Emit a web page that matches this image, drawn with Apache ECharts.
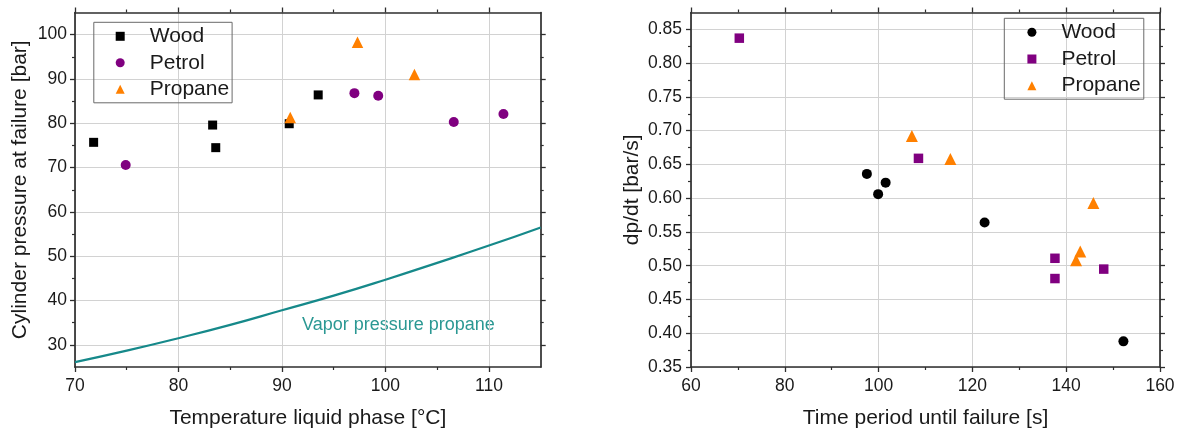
<!DOCTYPE html>
<html>
<head>
<meta charset="utf-8">
<script src="https://cdn.jsdelivr.net/npm/echarts@6/dist/echarts.min.js"></script>
<style>
html,body{margin:0;padding:0;background:#fff;}
#c{width:1180px;height:434px;}
</style>
</head>
<body>
<div id="c"></div>
<script>
// ---- Left chart data: temperature [°C] vs cylinder pressure [bar]
const leftWoodT    = [71.8, 83.3, 83.6, 90.7, 93.5];
const leftWoodP    = [75.7, 79.6, 74.5, 79.9, 86.4];
const leftPetrolT  = [74.9, 97.0, 99.3, 106.6, 111.4];
const leftPetrolP  = [70.6, 86.8, 86.2, 80.3, 82.1];
const leftPropaneT = [90.8, 97.3, 102.8];
const leftPropaneP = [81.3, 98.3, 91.0];
const vaporT = [70, 75, 80, 85, 90, 95, 100, 105, 110, 115];
const vaporP = [26.1, 28.7, 31.5, 34.5, 37.8, 41.1, 44.7, 48.5, 52.4, 56.5];

// ---- Right chart data: time until failure [s] vs dp/dt [bar/s]
const rightWoodT    = [97.5, 99.9, 101.5, 122.6, 152.2];
const rightWoodR    = [0.636, 0.606, 0.623, 0.564, 0.388];
const rightPetrolT  = [70.3, 108.5, 137.6, 137.6, 148.0];
const rightPetrolR  = [0.837, 0.659, 0.511, 0.481, 0.495];
const rightPropaneT = [107.1, 115.3, 145.8, 143.0, 142.1];
const rightPropaneR = [0.692, 0.658, 0.593, 0.521, 0.508];

// ---- Tick values
const leftXMajor  = [70, 80, 90, 100, 110];
const leftXMinor  = [75, 85, 95, 105];
const leftYMajor  = [30, 40, 50, 60, 70, 80, 90, 100];
const leftYMinor  = [35, 45, 55, 65, 75, 85, 95];
const rightXMajor = [60, 80, 100, 120, 140, 160];
const rightXMinor = [70, 90, 110, 130, 150];
const rightYMajor = [0.35, 0.40, 0.45, 0.50, 0.55, 0.60, 0.65, 0.70, 0.75, 0.80, 0.85];
const rightYMinor = [0.375, 0.425, 0.475, 0.525, 0.575, 0.625, 0.675, 0.725, 0.775, 0.825];

const seriesNames = ['Wood', 'Petrol', 'Propane'];
const vaporLabel = 'Vapor pressure propane';

const FONT = 'Liberation Sans, Arial, sans-serif';
const AX = '#2e2e2e';
const GRID = '#d2d2d2';
const BLACK = '#000000';
const PURPLE = '#800080';
const ORANGE = '#ff8000';
const TEAL = '#16898a';

function zip(a, b) { return a.map((v, i) => [v, b[i]]); }

function axisSet(dim, gridIndex, min, max, majors, minors, name, nameGap, nameSize, margin, fmt) {
  const pos = dim === 'x' ? ['bottom', 'top'] : ['left', 'right'];
  const out = [];
  pos.forEach((p, k) => {
    out.push({
      type: 'value', gridIndex: gridIndex, position: p, min: min, max: max,
      name: k === 0 ? name : '',
      nameLocation: 'middle', nameGap: nameGap,
      nameTextStyle: {fontFamily: FONT, fontSize: nameSize, color: '#1a1a1a'},
      axisLine: {show: true, onZero: false, lineStyle: {color: AX, width: 1.7}},
      axisTick: {show: true, inside: false, length: 5, customValues: majors, lineStyle: {color: AX, width: 1.3}},
      axisLabel: {show: k === 0, customValues: majors, margin: margin, fontFamily: FONT, fontSize: 17.5, color: '#1a1a1a', formatter: fmt},
      splitLine: {show: k === 0, lineStyle: {color: GRID, width: 1}},
      minorTick: {show: false}, minorSplitLine: {show: false}
    });
    out.push({
      type: 'value', gridIndex: gridIndex, position: p, min: min, max: max,
      axisLine: {show: false, onZero: false},
      axisTick: {show: true, inside: false, length: 3, customValues: minors, lineStyle: {color: AX, width: 1.2}},
      axisLabel: {show: false},
      splitLine: {show: false}
    });
  });
  return out;
}

const fmtInt = v => String(Math.round(v));
const fmt2 = v => v.toFixed(2);

const xAxes = [].concat(
  axisSet('x', 0, 70, 115, leftXMajor, leftXMinor, 'Temperature liquid phase [°C]', 41, 21, 10, fmtInt),
  axisSet('x', 1, 60, 160, rightXMajor, rightXMinor, 'Time period until failure [s]', 41, 21, 10, fmtInt)
);
const yAxes = [].concat(
  axisSet('y', 0, 25, 105, leftYMajor, leftYMinor, 'Cylinder pressure at failure [bar]', 44, 21, 8, fmtInt),
  axisSet('y', 1, 0.35, 0.875, rightYMajor, rightYMinor, 'dp/dt [bar/s]', 48, 21, 9, fmt2)
);

function scatter(name, xi, yi, data, symbol, size, color) {
  return {
    type: 'scatter', name: name, xAxisIndex: xi, yAxisIndex: yi,
    data: data, symbol: symbol, symbolSize: size,
    itemStyle: {color: color, opacity: 1},
    z: 5
  };
}

const legendBase = {
  orient: 'vertical', itemWidth: 9, itemHeight: 9,
  borderColor: '#6a6a6a', borderWidth: 1, borderRadius: 0,
  textStyle: {fontFamily: FONT, fontSize: 21, lineHeight: 24, color: '#1a1a1a', padding: [0, 0, 0, 20]},
  selectedMode: false
};

const option = {
  animation: false,
  backgroundColor: '#ffffff',
  grid: [
    {left: 75, top: 12.5, width: 465.7, height: 356.8, containLabel: false},
    {left: 691, top: 12.5, width: 469, height: 356.8, containLabel: false}
  ],
  xAxis: xAxes,
  yAxis: yAxes,
  legend: [
    Object.assign({}, legendBase, {
      left: 93.8, top: 22.3, padding: [2, 3, 1.5, 21.9], itemGap: 2.5,
      data: [
        {name: seriesNames[0], icon: 'rect', itemStyle: {color: BLACK}},
        {name: seriesNames[1], icon: 'circle', itemStyle: {color: PURPLE}},
        {name: seriesNames[2], icon: 'triangle', itemStyle: {color: ORANGE}}
      ]
    }),
    Object.assign({}, legendBase, {
      left: 1004.3, top: 18.3, padding: [2, 3, 1.5, 23.1], itemGap: 2.7,
      data: [
        {name: seriesNames[0], icon: 'circle', itemStyle: {color: BLACK}},
        {name: seriesNames[1], icon: 'rect', itemStyle: {color: PURPLE}},
        {name: seriesNames[2], icon: 'triangle', itemStyle: {color: ORANGE}}
      ]
    })
  ],
  graphic: [
    {type: 'text', left: 302, top: 316, silent: true,
     style: {text: vaporLabel, font: '18px ' + FONT, fill: '#2b9893'}}
  ],
  series: [
    {
      type: 'line', name: vaporLabel, xAxisIndex: 0, yAxisIndex: 0,
      data: zip(vaporT, vaporP), smooth: 0.5, showSymbol: false,
      lineStyle: {color: TEAL, width: 2.2}, z: 3
    },
    scatter(seriesNames[0], 0, 0, zip(leftWoodT, leftWoodP), 'rect', 9, BLACK),
    scatter(seriesNames[1], 0, 0, zip(leftPetrolT, leftPetrolP), 'circle', 10, PURPLE),
    scatter(seriesNames[2], 0, 0, zip(leftPropaneT, leftPropaneP), 'triangle', 11.5, ORANGE),
    scatter(seriesNames[0], 4, 4, zip(rightWoodT, rightWoodR), 'circle', 10, BLACK),
    scatter(seriesNames[1], 4, 4, zip(rightPetrolT, rightPetrolR), 'rect', 9.5, PURPLE),
    scatter(seriesNames[2], 4, 4, zip(rightPropaneT, rightPropaneR), 'triangle', 12, ORANGE)
  ]
};

const chart = echarts.init(document.getElementById('c'), null, {renderer: 'canvas'});
chart.setOption(option);
</script>
</body>
</html>
